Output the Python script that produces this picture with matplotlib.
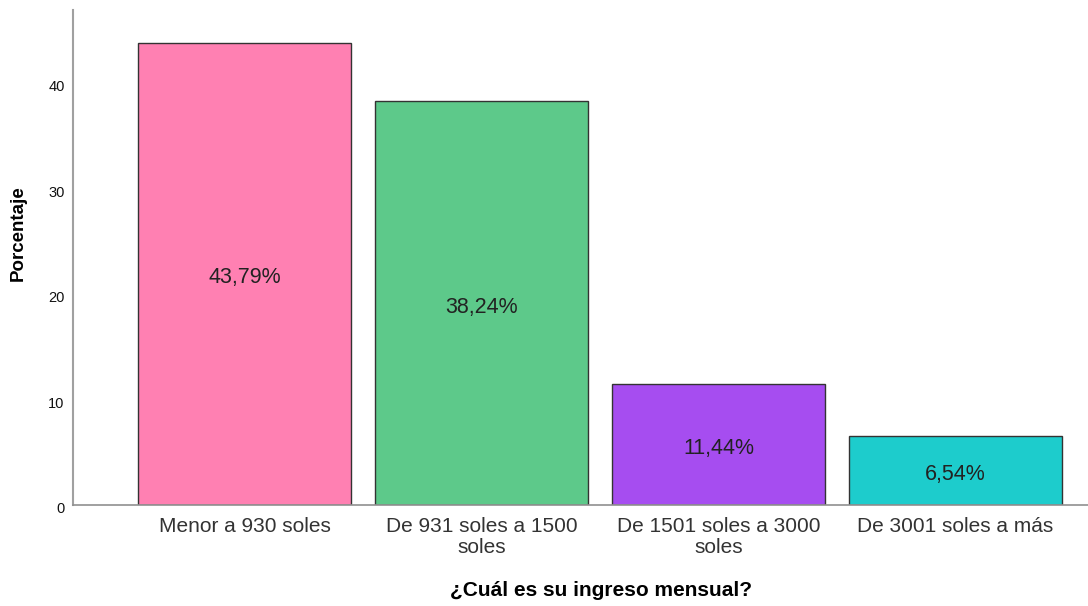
import matplotlib.pyplot as plt
import matplotlib.transforms as mtransforms

plt.rcParams['font.family'] = ['Liberation Sans', 'DejaVu Sans']

categories = ['Menor a 930 soles', 'De 931 soles a 1500\nsoles',
              'De 1501 soles a 3000\nsoles', 'De 3001 soles a más']
values = [43.79, 38.24, 11.44, 6.54]
labels = ['43,79%', '38,24%', '11,44%', '6,54%']
colors = ['#FF80B2', '#5DC98A', '#A64DF0', '#1DCCCC']

fig = plt.figure(figsize=(10.88, 6.06), dpi=100)
ax = fig.add_axes([0.0671, 0.1667, 0.9329, 0.8168])

# small downward nudge used for the SPSS-like text placement
shift = mtransforms.ScaledTranslation(0, -4 / 100, fig.dpi_scale_trans)

x = range(len(values))
bars = ax.bar(x, values, width=0.9, color=colors, edgecolor='#333333', linewidth=1.0)

for b, lab in zip(bars, labels):
    ax.text(b.get_x() + b.get_width() / 2, b.get_height() / 2, lab,
            ha='center', va='center', fontsize=15.5, color='#222222',
            transform=ax.transData + shift)

ax.set_xlim(-0.724, 3.559)
ax.set_ylim(0, 46.9)
ax.set_yticks([0, 10, 20, 30, 40])
ax.set_xticks(list(x))
ax.set_xticklabels(categories, fontsize=15, color='#333333', linespacing=1.1)
ax.tick_params(axis='y', length=0, labelsize=10.5, pad=6, colors='#111111')
ax.tick_params(axis='x', length=0, pad=9)

yshift = mtransforms.ScaledTranslation(0, -3 / 100, fig.dpi_scale_trans)
for t in ax.get_yticklabels():
    t.set_transform(t.get_transform() + yshift)

for s in ['top', 'right']:
    ax.spines[s].set_visible(False)
ax.spines['left'].set_color('#A0A0A0')
ax.spines['left'].set_linewidth(1.5)
ax.spines['bottom'].set_color('#909090')
ax.spines['bottom'].set_linewidth(1.2)

ax.set_ylabel('Porcentaje', fontsize=13.5, fontweight='bold', va='center')
ax.yaxis.set_label_coords(-0.054, 0.55)
ax.set_xlabel('¿Cuál es su ingreso mensual?', fontsize=15, fontweight='bold', va='center')
ax.xaxis.set_label_coords(0.52, -0.1725)

fig.savefig('out.png', dpi=100)
